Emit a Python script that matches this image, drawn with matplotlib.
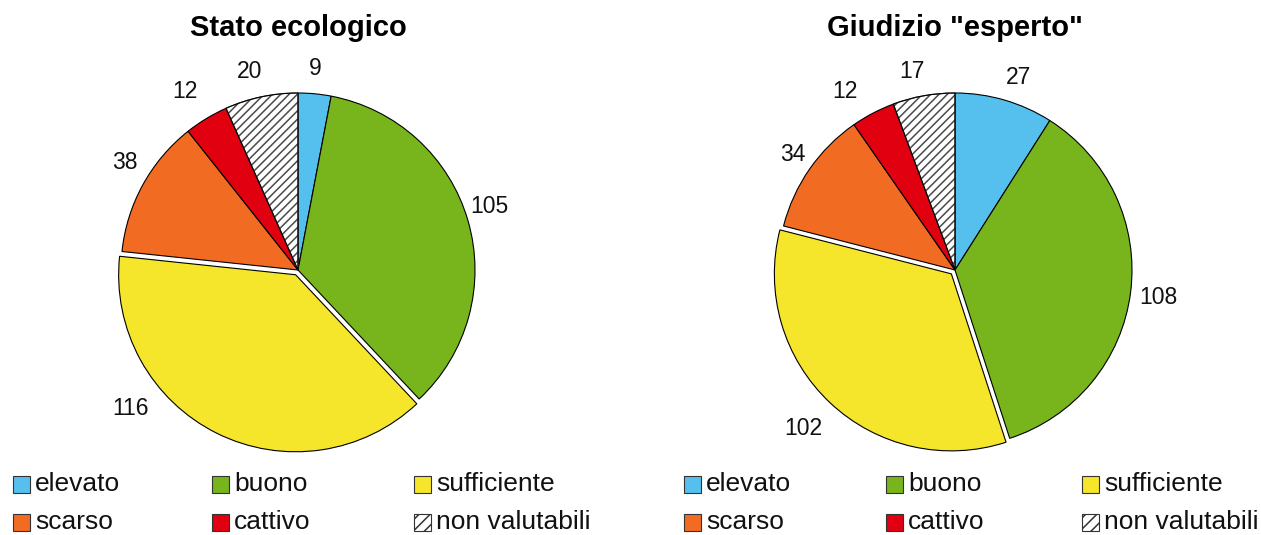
import matplotlib
matplotlib.use("Agg")
import matplotlib.pyplot as plt
from matplotlib.patches import Rectangle, Wedge

plt.rcParams['font.family'] = ['Liberation Sans', 'DejaVu Sans']
plt.rcParams['hatch.linewidth'] = 1.1

categories = ["elevato", "buono", "sufficiente", "scarso", "cattivo", "non valutabili"]
stato_values = [9, 105, 116, 38, 12, 20]
esperto_values = [27, 108, 102, 34, 12, 17]
titles = ["Stato ecologico", 'Giudizio "esperto"']

colors = ["#55C0EE", "#78B41C", "#F5E52B", "#F26B23", "#E0000F", "white"]
hatches = [None, None, None, None, None, "////"]
explode = [0, 0, 0.03, 0, 0, 0]

# label positions (in radius units) as placed in the original chart
label_pos_left = [(0.096, 1.141), (1.079, 0.356), (-0.944, -0.780),
                  (-0.977, 0.605), (-0.638, 1.006), (-0.271, 1.119)]
label_pos_right = [(0.356, 1.085), (1.147, -0.153), (-0.859, -0.893),
                   (-0.915, 0.650), (-0.621, 1.006), (-0.243, 1.119)]

W, H = 1261, 535
fig = plt.figure(figsize=(W / 100, H / 100), dpi=100)

R = 177.0
HALF = 240.0
HATCH_COLOR = "#4a4a4a"


def draw_pie(cx, cy, values, title, label_pos):
    ax = fig.add_axes([(cx - HALF) / W, (H - cy - HALF) / H, 2 * HALF / W, 2 * HALF / H])
    wedges, _ = ax.pie(values, colors=colors, startangle=90, counterclock=False,
                       explode=explode, radius=1.0,
                       wedgeprops=dict(edgecolor="black", linewidth=0.8))
    for w, h in zip(wedges, hatches):
        if h:
            w.set_hatch(h)
            w.set_edgecolor(HATCH_COLOR)
            outline = Wedge(w.center, w.r, w.theta1, w.theta2, fill=False,
                            edgecolor="black", linewidth=0.8)
            ax.add_patch(outline)
    for v, (lx, ly) in zip(values, label_pos):
        ax.text(lx, ly, str(v), ha="center", va="center", fontsize=16.5, color="#111111")
    ax.set_xlim(-HALF / R, HALF / R)
    ax.set_ylim(-HALF / R, HALF / R)
    ax.axis("off")
    fig.text(cx / W, 1 - 28 / H, title, ha="center", va="center",
             fontsize=21, fontweight="bold")


draw_pie(298, 270, stato_values, titles[0], label_pos_left)
draw_pie(955, 270, esperto_values, titles[1], label_pos_right)


def draw_legend(col_x, row_y):
    sq = 17
    for i, name in enumerate(categories):
        r, c = divmod(i, 3)
        x = col_x[c]
        y = row_y[r]
        rect = Rectangle((x / W, 1 - (y + sq / 2) / H), sq / W, sq / H,
                         transform=fig.transFigure, facecolor=colors[i],
                         edgecolor="#333333", linewidth=0.8,
                         hatch=("///" if hatches[i] else None))
        fig.add_artist(rect)
        fig.text((x + sq + 5) / W, 1 - y / H, name, ha="left", va="center",
                 fontsize=19, color="#111111")


draw_legend([13, 212, 414], [484, 522])
draw_legend([684, 886, 1082], [484, 522])

fig.savefig("out.png", dpi=100, facecolor="white")
